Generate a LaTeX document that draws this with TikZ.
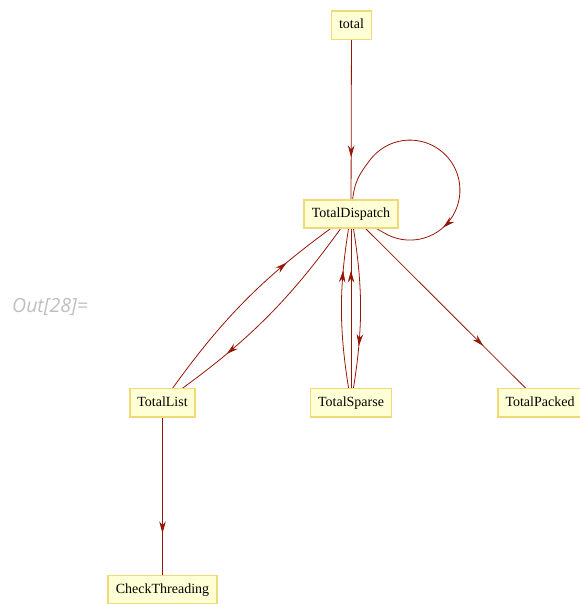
\documentclass[tikz,border=0pt]{standalone}
\usepackage{fontspec}
\setmainfont{Liberation Serif}
\newfontfamily\promptfont{Open Sans}
\usetikzlibrary{arrows.meta,decorations.markings,backgrounds}

\definecolor{callred}{RGB}{150,22,5}
\definecolor{boxfill}{RGB}{255,255,214}
\definecolor{boxline}{RGB}{240,218,120}

\begin{document}
\begin{tikzpicture}[
    x=1pt, y=-1pt,
    fn/.style={draw=boxline, fill=boxfill, line width=1.8pt, minimum height=28.2pt, inner xsep=7.6pt, font=\fontsize{14}{16}\selectfont, text height=10pt, text depth=3pt},
    call/.style={color=callred, line width=0.8pt, postaction={decorate}, decoration={markings, mark=at position #1 with {\arrow{Stealth[length=12pt,width=6.5pt]}}}},
    call/.default=0.7
]
\useasboundingbox (0,0) rectangle (579,604);

% Output prompt
\node[anchor=base west, text=black!25, font=\promptfont\itshape\fontsize{19.5}{22}\selectfont, inner sep=0pt] (prompt) at (12,312) {Out[28]=};

% Function nodes
\node[fn] (total) at (351.5,25.5) {total};
\node[fn] (disp) at (351,214) {TotalDispatch};
\node[fn] (list) at (162.5,402.5) {TotalList};
\node[fn] (sparse) at (351,402.5) {TotalSparse};
\node[fn] (packed) at (540,402.5) {TotalPacked};
\node[fn] (check) at (162.5,589.5) {CheckThreading};

% Calls, drawn behind the boxes
\begin{pgfonlayer}{background}
\draw[call] (total.center) -- (disp.center);
% recursive call: out of the top, round a circle, back in from the right
\draw[call=0.69] (disp.center) .. controls +(3,-30) and +(-15,20) .. ++(19,-54)
    arc[start angle=143, end angle=-120, radius=50pt] -- (disp.center);
\draw[call] (list.center) to[bend left=10] (disp.center);
\draw[call] (disp.center) to[bend left=10] (list.center);
\draw[call] (sparse.center) to[bend left=10] (disp.center);
\draw[call] (sparse.center) -- (disp.center);
\draw[call] (disp.center) to[bend left=10] (sparse.center);
\draw[call] (disp.center) -- (packed.center);
\draw[call] (list.center) -- (check.center);
\end{pgfonlayer}
\end{tikzpicture}
\end{document}
